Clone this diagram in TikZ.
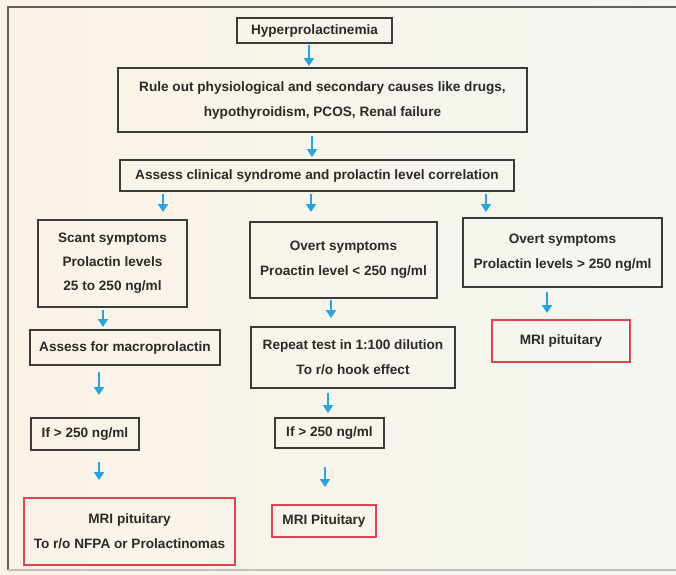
\documentclass[tikz,border=0pt]{standalone}
\usepackage{fontspec}
\setmainfont{Liberation Sans}
\usetikzlibrary{calc,arrows.meta}
\definecolor{boxline}{HTML}{3A3A3A}
\definecolor{redline}{HTML}{D9464F}
\definecolor{arrowblue}{HTML}{2AA3DC}
\definecolor{txt}{HTML}{2A2A2A}
\definecolor{bgA}{HTML}{FBF2E6}
\definecolor{bgB}{HTML}{F3F6F1}
\tikzset{
  every node/.style={inner sep=0pt, outer sep=0pt},
  box/.style={draw=boxline, line width=2pt, align=center, text=txt,
    font=\bfseries\fontsize{13.6}{25}\selectfont},
  redbox/.style={box, draw=redline, line width=1.6pt},
  arr/.style={draw=arrowblue, line width=2pt,
    -{Triangle[width=10pt,length=8pt]}},
}
\newcommand\flow[5]{\draw[arr] ($(#1.south)+(#3,#4)$) -- ($(#1.south |- #2.north)+(#3,-#5)$);}
\begin{document}
\begin{tikzpicture}[x=1pt,y=-1pt]
\useasboundingbox (0,0) rectangle (676,574);
\shade[left color=bgA, right color=bgB] (0,0) rectangle (676,574);
% frame
\draw[line width=2pt, draw=boxline!80] (676,7) -- (8,7) -- (8,570);
\draw[line width=1.2pt, draw=black!25] (8,570) -- (676,570);

\node[box, minimum width=155pt, minimum height=25pt] (hyper) at (314.5,30.5) {Hyperprolactinemia};
\node[box, minimum width=409pt, minimum height=64pt] (rule) at (322.5,100)
  {Rule out physiological and secondary causes like drugs,\\ hypothyroidism, PCOS, Renal failure};
\node[box, minimum width=394pt, minimum height=31pt] (assess) at (317,175.5)
  {Assess clinical syndrome and prolactin level correlation};
\node[box, minimum width=149pt, minimum height=87pt, font=\bfseries\fontsize{13.6}{24}\selectfont] (scant) at (112.5,263.5)
  {Scant symptoms\\ Prolactin levels\\ 25 to 250 ng/ml};
\node[box, minimum width=187pt, minimum height=76pt] (overtm) at (343.5,260)
  {Overt symptoms\\ Proactin level {<} 250 ng/ml};
\node[box, minimum width=199pt, minimum height=69pt] (overtr) at (562.5,252.5)
  {Overt symptoms\\ Prolactin levels {>} 250 ng/ml};
\node[box, minimum width=190pt, minimum height=35pt] (macro) at (125,347.5)
  {Assess for macroprolactin};
\node[box, minimum width=204pt, minimum height=61pt] (repeat) at (353,357.5)
  {Repeat test in 1:100 dilution\\ To r/o hook effect};
\node[redbox, minimum width=138pt, minimum height=42pt] (mrir) at (561,341)
  {MRI pituitary};
\node[box, minimum width=108pt, minimum height=32pt] (ifl) at (85,434)
  {If {>} 250 ng/ml};
\node[box, minimum width=109pt, minimum height=30pt] (ifm) at (329.5,433)
  {If {>} 250 ng/ml};
\node[redbox, minimum width=211pt, minimum height=67pt] (mril) at (129.5,531.5)
  {MRI pituitary\\ To r/o NFPA or Prolactinomas};
\node[redbox, minimum width=104pt, minimum height=32pt] (mrim) at (324,521)
  {MRI Pituitary};

\flow{hyper}{rule}{-5.5}{2}{2}
\flow{rule}{assess}{-10.5}{4}{3}
\flow{assess}{scant}{-154}{3}{8}
\flow{assess}{overtm}{-6}{3}{10}
\flow{assess}{overtr}{169}{3}{6}
\flow{scant}{macro}{-9.5}{3}{3}
\flow{overtm}{repeat}{-12.5}{2}{9}
\flow{overtr}{mrir}{-15.5}{5}{7}
\flow{macro}{ifl}{-26}{7}{23}
\flow{repeat}{ifm}{-25}{5}{5}
\flow{ifl}{mril}{14}{12}{18}
\flow{ifm}{mrim}{-4.5}{19}{18}
\end{tikzpicture}
\end{document}
